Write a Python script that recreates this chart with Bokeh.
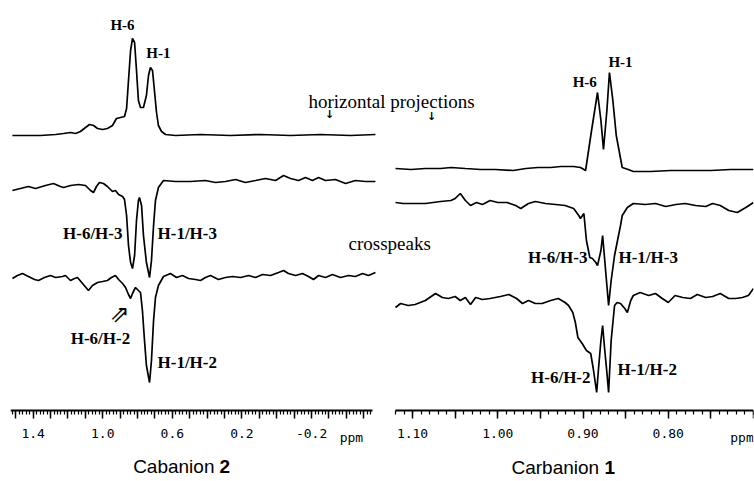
import numpy as np
from bokeh.plotting import figure
from bokeh.models import Range1d, LinearAxis, SingleIntervalTicker, CustomJSTickFormatter
from bokeh.core.properties import value
from bokeh.embed import file_html
from bokeh.resources import INLINE

# ---------------- data: Cabanion 2 (left panel) ----------------
l_top_ppm = [1.519, 1.444, 1.358, 1.271, 1.225, 1.185, 1.157, 1.128, 1.099, 1.076, 1.053, 1.030, 1.001, 0.973,
             0.944, 0.921, 0.898, 0.875, 0.863, 0.852, 0.840, 0.829, 0.817, 0.806, 0.795, 0.783, 0.766, 0.749,
             0.737, 0.726, 0.714, 0.703, 0.691, 0.680, 0.662, 0.639, 0.582, 0.438, 0.266, 0.093, -0.079, -0.251,
             -0.424, -0.567]
l_top_int = [0, 0, 0, 1, 2, 3, 2, 4, 8, 11, 10, 7, 6, 7,
             10, 17, 18, 19, 27, 55, 85, 97, 93, 65, 35, 28, 28, 40,
             60, 68, 65, 45, 23, 10, 4, 1, 0, 1, 0, 1, 0, 1,
             0, 1]

l_mid_ppm = [1.519, 1.473, 1.427, 1.386, 1.329, 1.283, 1.243, 1.225, 1.185, 1.139, 1.099, 1.070, 1.053, 1.036,
             1.019, 0.996, 0.973, 0.944, 0.927, 0.909, 0.886, 0.875, 0.863, 0.852, 0.840, 0.829, 0.817, 0.806,
             0.795, 0.789, 0.777, 0.766, 0.749, 0.731, 0.720, 0.708, 0.697, 0.680, 0.651, 0.582, 0.496, 0.410,
             0.352, 0.295, 0.237, 0.180, 0.122, 0.065, 0.007, -0.039, -0.079, -0.125, -0.165, -0.205, -0.240,
             -0.280, -0.337, -0.395, -0.452, -0.510, -0.567]
l_mid_int = [-8, -6, -4, -6, -3, -1, -4, -5, -3, -2, -3, -8, -10, -4,
             0, -1, -4, -9, -8, -12, -14, -17, -33, -63, -80, -86, -73, -38,
             -18, -15, -23, -53, -80, -95, -78, -43, -18, -5, 2, 1, 1, 2,
             0, 1, 3, 0, 2, 4, 2, 7, 4, 2, 5, 2, 5,
             2, 3, -1, 2, 1, 1]

l_bot_ppm = [1.519, 1.490, 1.461, 1.427, 1.392, 1.369, 1.335, 1.300, 1.271, 1.231, 1.214, 1.197, 1.185, 1.162,
             1.145, 1.116, 1.082, 1.059, 1.030, 1.001, 0.973, 0.950, 0.927, 0.909, 0.886, 0.869, 0.852, 0.840,
             0.829, 0.812, 0.795, 0.783, 0.772, 0.760, 0.749, 0.731, 0.720, 0.708, 0.697, 0.680, 0.651, 0.611,
             0.576, 0.542, 0.507, 0.467, 0.438, 0.410, 0.381, 0.335, 0.295, 0.254, 0.208, 0.162, 0.122, 0.082,
             0.036, -0.010, -0.039, -0.067, -0.108, -0.148, -0.182, -0.211, -0.240, -0.280, -0.320, -0.366,
             -0.412, -0.452, -0.493, -0.527, -0.567]
l_bot_int = [0, 3, 5, 2, -1, -2, 1, 3, 1, 2, 3, 0, -2, 0,
             1, -5, -12, -7, -4, -3, -2, 1, 3, -1, -5, -9, -16, -20,
             -15, -9, -12, -14, -32, -62, -87, -104, -82, -42, -19, -7, 2, 5,
             1, 3, 0, -1, -2, 1, 3, -1, 1, 2, 1, 3, 1, 4,
             3, 6, 8, 5, 3, 5, 2, -1, 3, 1, 4, 1,
             3, 2, 5, 3, 6]

# ---------------- data: Carbanion 1 (right panel) ----------------
r_top_ppm = [1.120, 1.102, 1.085, 1.067, 1.055, 1.038, 1.020, 1.003, 0.982, 0.967, 0.953, 0.938, 0.926, 0.911,
             0.903, 0.897, 0.890, 0.883, 0.879, 0.876, 0.872, 0.869, 0.865, 0.861, 0.854, 0.847, 0.841, 0.821,
             0.797, 0.774, 0.750, 0.727, 0.700]
r_top_int = [1, 0, 1, 1, 2, 1, 0, 0, -1, 1, 2, 2, 3, 3,
             2, -1, 39, 77, 49, 20, 59, 97, 69, 34, 2, 0, -2, -2,
             -1, -1, -1, 0, 0]

r_mid_ppm = [1.120, 1.111, 1.099, 1.085, 1.067, 1.055, 1.050, 1.044, 1.038, 1.032, 1.025, 1.018, 1.009, 1.000,
             0.989, 0.979, 0.973, 0.964, 0.956, 0.944, 0.932, 0.921, 0.911, 0.905, 0.903, 0.899, 0.896, 0.892,
             0.889, 0.885, 0.883, 0.879, 0.877, 0.875, 0.872, 0.870, 0.867, 0.863, 0.860, 0.856, 0.854, 0.848,
             0.841, 0.827, 0.815, 0.803, 0.791, 0.780, 0.768, 0.756, 0.748, 0.739, 0.729, 0.719, 0.709, 0.700]
r_mid_int = [1, 0, 0, 0, 2, 3, 5, 10, 3, -2, 1, -1, 3, 1,
             1, -2, -5, 0, 2, 0, -1, -2, -5, -12, -15, -10, -37, -54,
             -55, -59, -62, -47, -32, -52, -82, -102, -77, -52, -39, -22, -12, -4,
             0, -1, 0, -3, -1, 0, -2, -3, 0, -2, -7, -9, -4, 1]

r_bot_ppm = [1.120, 1.114, 1.105, 1.097, 1.085, 1.073, 1.065, 1.058, 1.050, 1.044, 1.038, 1.032, 1.026, 1.018,
             1.009, 0.997, 0.987, 0.978, 0.971, 0.964, 0.956, 0.948, 0.938, 0.929, 0.921, 0.917, 0.912, 0.909,
             0.906, 0.901, 0.896, 0.891, 0.888, 0.884, 0.882, 0.879, 0.877, 0.875, 0.872, 0.870, 0.867, 0.863,
             0.860, 0.856, 0.851, 0.848, 0.844, 0.841, 0.833, 0.823, 0.815, 0.807, 0.800, 0.792, 0.783, 0.774,
             0.766, 0.756, 0.748, 0.739, 0.729, 0.721, 0.713, 0.706, 0.700]
r_bot_int = [-7, -3, -5, -4, 0, 7, 3, 2, 4, 0, 3, -4, 3, 1,
             2, 4, 6, 2, -3, 0, -3, -3, 0, 2, -2, -5, -12, -22,
             -37, -43, -50, -53, -68, -92, -70, -40, -25, -45, -72, -92, -40, -5,
             -2, -3, -8, -12, 0, 5, 8, 5, 7, 2, -2, 5, 3, 2,
             6, 3, 4, 7, 2, 2, 3, 5, 12]

# stacking offsets of the three rows (arbitrary intensity units)
left_offsets = [275, 228, 132]
right_offsets = [241, 207, 110]

# axis calibration: ppm at the ends of each ruler
left_ruler = (1.53, -0.55)
right_ruler = (1.12, 0.70)

# ---------------- layout ----------------
W, H = 754, 478
ML, MR, MT = 10, 1, 8
frame_w = W - ML - MR
left_px = (0, 362)                    # left ruler spans frame px 0..362
right_px = (385, 743)                 # right ruler spans frame px 385..743

sl = (left_ruler[0] - left_ruler[1]) / (left_px[1] - left_px[0])
sr = (right_ruler[0] - right_ruler[1]) / (right_px[1] - right_px[0])
xr_left = Range1d(left_ruler[0], left_ruler[0] - frame_w * sl)
xr_right = Range1d(right_ruler[0] + right_px[0] * sr, right_ruler[0] + right_px[0] * sr - frame_w * sr)
y_top = 402
yr = Range1d(y_top - (H - MT), y_top)

p = figure(width=W, height=H, output_backend="svg", toolbar_location=None,
           x_axis_type=None, y_axis_type=None, x_range=xr_left, y_range=yr,
           min_border_left=ML, min_border_right=MR, min_border_top=MT, min_border_bottom=0,
           outline_line_color=None, background_fill_color="white", border_fill_color="white")
p.extra_x_ranges = {"right": xr_right}
p.xgrid.visible = False
p.ygrid.visible = False

LW = 1.7
for xs, ys, off in zip([l_top_ppm, l_mid_ppm, l_bot_ppm], [l_top_int, l_mid_int, l_bot_int], left_offsets):
    p.line(xs, list(np.array(ys) + off), line_color="black", line_width=LW)
for xs, ys, off in zip([r_top_ppm, r_mid_ppm, r_bot_ppm], [r_top_int, r_mid_int, r_bot_int], right_offsets):
    p.line(xs, list(np.array(ys) + off), line_color="black", line_width=LW, x_range_name="right")

# ---------------- axes (rulers) ----------------
fmt_left = CustomJSTickFormatter(code="""
const k = (1.4 - tick) / 0.4;
return Math.abs(k - Math.round(k)) < 1e-6 ? tick.toFixed(1) : "";
""")
fmt_right = CustomJSTickFormatter(code="""
const k = tick * 10;
return (Math.abs(k - Math.round(k)) < 1e-6 && tick > 0.75) ? tick.toFixed(2) : "";
""")

def style_axis(ax):
    ax.axis_line_width = 2
    ax.axis_line_color = "black"
    ax.major_tick_in = 0
    ax.minor_tick_in = 0
    ax.major_tick_out = 8
    ax.minor_tick_out = 4
    ax.major_tick_line_width = 1.5
    ax.minor_tick_line_width = 1.2
    ax.major_tick_line_color = "black"
    ax.minor_tick_line_color = "black"
    ax.major_label_text_font = "DejaVu Sans Mono"
    ax.major_label_text_font_size = "13px"
    ax.major_label_text_color = "black"
    ax.major_label_standoff = 10

ax_l = LinearAxis(ticker=SingleIntervalTicker(interval=0.1, num_minor_ticks=5), formatter=fmt_left,
                  bounds=(min(left_ruler), max(left_ruler)), fixed_location=0)
ax_r = LinearAxis(ticker=SingleIntervalTicker(interval=0.05, num_minor_ticks=5), formatter=fmt_right,
                  bounds=(min(right_ruler), max(right_ruler)), x_range_name="right", fixed_location=0)
style_axis(ax_l)
style_axis(ax_r)
p.add_layout(ax_l, "below")
p.add_layout(ax_r, "below")

mono = value("DejaVu Sans Mono")
# ppm unit labels
p.text([-0.429], [-27], text=["ppm"], text_font=mono, text_font_size="13px", text_color="black",
       text_align="center", text_baseline="middle")
p.text([0.7135], [-27], text=["ppm"], text_font=mono, text_font_size="13px", text_color="black",
       text_align="center", text_baseline="middle", x_range_name="right")

# captions (word + bold number)
sans = value("Liberation Sans")
CAP = "19px"
p.text([0.358], [-56], text=["Cabanion"], text_font=sans, text_font_size=CAP, text_color="black",
       text_align="right", text_baseline="middle")
p.text([0.329], [-56], text=["2"], text_font=sans, text_font_size=CAP, text_font_style="bold",
       text_color="black", text_align="left", text_baseline="middle")
p.text([0.8811], [-57], text=["Carbanion"], text_font=sans, text_font_size=CAP, text_color="black",
       text_align="right", text_baseline="middle", x_range_name="right")
p.text([0.8749], [-57], text=["1"], text_font=sans, text_font_size=CAP, text_font_style="bold",
       text_color="black", text_align="left", text_baseline="middle", x_range_name="right")

# ---------------- peak annotations ----------------
serif = value("Liberation Serif")
def txt(xs, ys, ts, align, rn="default", size="15px", style="bold"):
    p.text(xs, ys, text=ts, text_font=serif, text_font_size=size, text_font_style=style,
           text_align=align, text_baseline="middle", text_color="black", x_range_name=rn)

CP = "17px"
txt([0.8865, 0.680], [386, 358], ["H-6", "H-1"], "center")
txt([1.013], [72], ["H-6/H-2"], "center", size=CP)
txt([0.8865], [177], ["H-6/H-3"], "right", size=CP)
txt([0.6854, 0.6854], [177, 48], ["H-1/H-3", "H-1/H-2"], "left", size=CP)
txt([-0.182], [309], ["horizontal projections"], "left", size="19px", style="normal")
txt([-0.412], [167], ["crosspeaks"], "left", size="19px", style="normal")

txt([0.898, 0.856], [329, 349], ["H-6", "H-1"], "center", rn="right")
txt([0.8948, 0.8912], [153, 33], ["H-6/H-3", "H-6/H-2"], "right", rn="right", size=CP)
txt([0.8584, 0.8596], [153, 41], ["H-1/H-3", "H-1/H-2"], "left", rn="right", size=CP)

# small arrows
p.text([-0.303, -0.889], [296, 294], text=["↓", "↓"], text_font=value("DejaVu Sans"),
       text_font_size="11px", text_font_style="bold", text_color="black",
       text_align="center", text_baseline="middle")
p.text([0.904], [97], text=["⇗"], text_font=value("DejaVu Sans"), text_font_size="24px",
       text_color="black", text_align="center", text_baseline="middle")

open("out.html", "w").write(file_html(p, INLINE))
